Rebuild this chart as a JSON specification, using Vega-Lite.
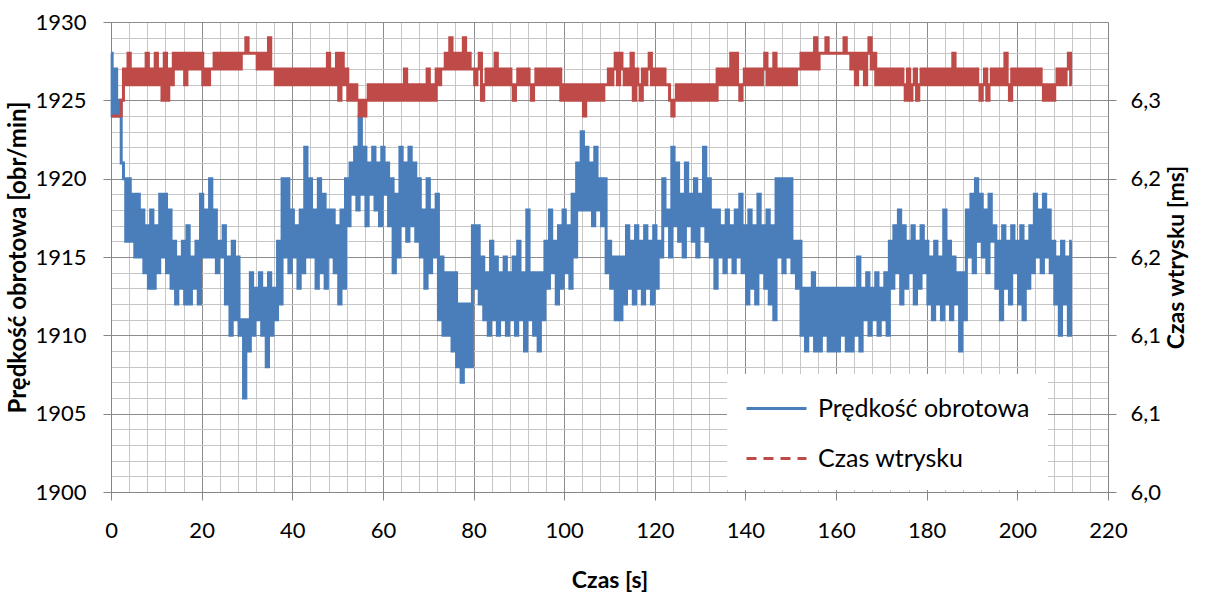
{
  "$schema": "https://vega.github.io/schema/vega-lite/v6.json",
  "width": 997,
  "height": 470,
  "autosize": {"type": "none"},
  "padding": {"left": 111, "top": 22, "right": 114, "bottom": 102},
  "background": "white",
  "config": {
    "view": {"stroke": null},
    "font": "Lato",
    "axis": {
      "labelFont": "Lato",
      "labelFontSize": 22,
      "labelColor": "#000000",
      "titleFont": "Lato",
      "titleFontSize": 23,
      "titleFontWeight": "bold",
      "titleColor": "#000000",
      "domainColor": "#868686",
      "tickColor": "#868686",
      "tickSize": 8
    }
  },
  "datasets": {
    "speed": [
{"t":0,"v":1928},{"t":0.5,"v":1924},{"t":1,"v":1927},{"t":1.5,"v":1924},{"t":2,"v":1925},{"t":2.5,"v":1921},{"t":3,"v":1920},{"t":3.5,"v":1916},{"t":4,"v":1920},{"t":4.5,"v":1916},{"t":5,"v":1919},{"t":5.5,"v":1915},{"t":6,"v":1919},{"t":6.5,"v":1915},{"t":7,"v":1918},{"t":7.5,"v":1914},{"t":8,"v":1917},{"t":8.5,"v":1913},{"t":9,"v":1918},{"t":9.5,"v":1913},{"t":10,"v":1917},{"t":10.5,"v":1914},{"t":11,"v":1919},{"t":11.5,"v":1915},{"t":12,"v":1919},{"t":12.5,"v":1914},{"t":13,"v":1918},{"t":13.5,"v":1913},{"t":14,"v":1916},{"t":14.5,"v":1912},{"t":15,"v":1915},{"t":15.5,"v":1913},{"t":16,"v":1916},{"t":16.5,"v":1912},{"t":17,"v":1917},{"t":17.5,"v":1912},{"t":18,"v":1915},{"t":18.5,"v":1913},{"t":19,"v":1916},{"t":19.5,"v":1912},{"t":20,"v":1919},{"t":20.5,"v":1915},{"t":21,"v":1918},{"t":21.5,"v":1915},{"t":22,"v":1920},{"t":22.5,"v":1915},{"t":23,"v":1918},{"t":23.5,"v":1914},{"t":24,"v":1916},{"t":24.5,"v":1915},{"t":25,"v":1917},{"t":25.5,"v":1912},{"t":26,"v":1915},{"t":26.5,"v":1910},{"t":27,"v":1916},{"t":27.5,"v":1911},{"t":28,"v":1915},{"t":28.5,"v":1910},{"t":29,"v":1911},{"t":29.5,"v":1906},{"t":30,"v":1911},{"t":30.5,"v":1909},{"t":31,"v":1914},{"t":31.5,"v":1910},{"t":32,"v":1913},{"t":32.5,"v":1911},{"t":33,"v":1914},{"t":33.5,"v":1910},{"t":34,"v":1913},{"t":34.5,"v":1908},{"t":35,"v":1914},{"t":35.5,"v":1910},{"t":36,"v":1913},{"t":36.5,"v":1911},{"t":37,"v":1916},{"t":37.5,"v":1912},{"t":38,"v":1920},{"t":38.5,"v":1915},{"t":39,"v":1920},{"t":39.5,"v":1914},{"t":40,"v":1918},{"t":40.5,"v":1915},{"t":41,"v":1917},{"t":41.5,"v":1913},{"t":42,"v":1918},{"t":42.5,"v":1914},{"t":43,"v":1922},{"t":43.5,"v":1915},{"t":44,"v":1920},{"t":44.5,"v":1915},{"t":45,"v":1918},{"t":45.5,"v":1913},{"t":46,"v":1920},{"t":46.5,"v":1914},{"t":47,"v":1919},{"t":47.5,"v":1913},{"t":48,"v":1918},{"t":48.5,"v":1915},{"t":49,"v":1918},{"t":49.5,"v":1914},{"t":50,"v":1917},{"t":50.5,"v":1912},{"t":51,"v":1918},{"t":51.5,"v":1913},{"t":52,"v":1920},{"t":52.5,"v":1917},{"t":53,"v":1921},{"t":53.5,"v":1919},{"t":54,"v":1922},{"t":54.5,"v":1918},{"t":55,"v":1924},{"t":55.5,"v":1919},{"t":56,"v":1922},{"t":56.5,"v":1917},{"t":57,"v":1921},{"t":57.5,"v":1919},{"t":58,"v":1922},{"t":58.5,"v":1918},{"t":59,"v":1921},{"t":59.5,"v":1917},{"t":60,"v":1922},{"t":60.5,"v":1919},{"t":61,"v":1921},{"t":61.5,"v":1917},{"t":62,"v":1920},{"t":62.5,"v":1914},{"t":63,"v":1919},{"t":63.5,"v":1915},{"t":64,"v":1922},{"t":64.5,"v":1917},{"t":65,"v":1921},{"t":65.5,"v":1916},{"t":66,"v":1922},{"t":66.5,"v":1917},{"t":67,"v":1921},{"t":67.5,"v":1916},{"t":68,"v":1920},{"t":68.5,"v":1915},{"t":69,"v":1918},{"t":69.5,"v":1913},{"t":70,"v":1920},{"t":70.5,"v":1914},{"t":71,"v":1918},{"t":71.5,"v":1915},{"t":72,"v":1919},{"t":72.5,"v":1911},{"t":73,"v":1915},{"t":73.5,"v":1910},{"t":74,"v":1914},{"t":74.5,"v":1910},{"t":75,"v":1914},{"t":75.5,"v":1909},{"t":76,"v":1914},{"t":76.5,"v":1908},{"t":77,"v":1912},{"t":77.5,"v":1907},{"t":78,"v":1912},{"t":78.5,"v":1908},{"t":79,"v":1912},{"t":79.5,"v":1908},{"t":80,"v":1917},{"t":80.5,"v":1913},{"t":81,"v":1917},{"t":81.5,"v":1912},{"t":82,"v":1915},{"t":82.5,"v":1911},{"t":83,"v":1914},{"t":83.5,"v":1910},{"t":84,"v":1916},{"t":84.5,"v":1911},{"t":85,"v":1915},{"t":85.5,"v":1910},{"t":86,"v":1914},{"t":86.5,"v":1911},{"t":87,"v":1915},{"t":87.5,"v":1910},{"t":88,"v":1914},{"t":88.5,"v":1911},{"t":89,"v":1915},{"t":89.5,"v":1910},{"t":90,"v":1916},{"t":90.5,"v":1911},{"t":91,"v":1914},{"t":91.5,"v":1909},{"t":92,"v":1918},{"t":92.5,"v":1911},{"t":93,"v":1914},{"t":93.5,"v":1910},{"t":94,"v":1914},{"t":94.5,"v":1909},{"t":95,"v":1914},{"t":95.5,"v":1911},{"t":96,"v":1916},{"t":96.5,"v":1913},{"t":97,"v":1918},{"t":97.5,"v":1914},{"t":98,"v":1916},{"t":98.5,"v":1912},{"t":99,"v":1917},{"t":99.5,"v":1913},{"t":100,"v":1918},{"t":100.5,"v":1914},{"t":101,"v":1917},{"t":101.5,"v":1913},{"t":102,"v":1919},{"t":102.5,"v":1915},{"t":103,"v":1921},{"t":103.5,"v":1918},{"t":104,"v":1923},{"t":104.5,"v":1918},{"t":105,"v":1922},{"t":105.5,"v":1918},{"t":106,"v":1921},{"t":106.5,"v":1917},{"t":107,"v":1922},{"t":107.5,"v":1918},{"t":108,"v":1920},{"t":108.5,"v":1917},{"t":109,"v":1920},{"t":109.5,"v":1914},{"t":110,"v":1916},{"t":110.5,"v":1913},{"t":111,"v":1915},{"t":111.5,"v":1911},{"t":112,"v":1915},{"t":112.5,"v":1911},{"t":113,"v":1915},{"t":113.5,"v":1912},{"t":114,"v":1917},{"t":114.5,"v":1913},{"t":115,"v":1916},{"t":115.5,"v":1912},{"t":116,"v":1917},{"t":116.5,"v":1913},{"t":117,"v":1916},{"t":117.5,"v":1912},{"t":118,"v":1917},{"t":118.5,"v":1913},{"t":119,"v":1916},{"t":119.5,"v":1912},{"t":120,"v":1917},{"t":120.5,"v":1913},{"t":121,"v":1916},{"t":121.5,"v":1915},{"t":122,"v":1920},{"t":122.5,"v":1917},{"t":123,"v":1918},{"t":123.5,"v":1915},{"t":124,"v":1922},{"t":124.5,"v":1917},{"t":125,"v":1921},{"t":125.5,"v":1916},{"t":126,"v":1919},{"t":126.5,"v":1915},{"t":127,"v":1921},{"t":127.5,"v":1917},{"t":128,"v":1919},{"t":128.5,"v":1916},{"t":129,"v":1920},{"t":129.5,"v":1915},{"t":130,"v":1919},{"t":130.5,"v":1917},{"t":131,"v":1922},{"t":131.5,"v":1916},{"t":132,"v":1920},{"t":132.5,"v":1915},{"t":133,"v":1918},{"t":133.5,"v":1913},{"t":134,"v":1918},{"t":134.5,"v":1915},{"t":135,"v":1917},{"t":135.5,"v":1914},{"t":136,"v":1918},{"t":136.5,"v":1915},{"t":137,"v":1917},{"t":137.5,"v":1914},{"t":138,"v":1918},{"t":138.5,"v":1915},{"t":139,"v":1919},{"t":139.5,"v":1914},{"t":140,"v":1917},{"t":140.5,"v":1912},{"t":141,"v":1918},{"t":141.5,"v":1913},{"t":142,"v":1917},{"t":142.5,"v":1912},{"t":143,"v":1919},{"t":143.5,"v":1914},{"t":144,"v":1917},{"t":144.5,"v":1913},{"t":145,"v":1918},{"t":145.5,"v":1912},{"t":146,"v":1917},{"t":146.5,"v":1911},{"t":147,"v":1920},{"t":147.5,"v":1915},{"t":148,"v":1920},{"t":148.5,"v":1914},{"t":149,"v":1920},{"t":149.5,"v":1915},{"t":150,"v":1920},{"t":150.5,"v":1914},{"t":151,"v":1916},{"t":151.5,"v":1913},{"t":152,"v":1916},{"t":152.5,"v":1910},{"t":153,"v":1913},{"t":153.5,"v":1909},{"t":154,"v":1913},{"t":154.5,"v":1910},{"t":155,"v":1914},{"t":155.5,"v":1909},{"t":156,"v":1913},{"t":156.5,"v":1909},{"t":157,"v":1913},{"t":157.5,"v":1910},{"t":158,"v":1913},{"t":158.5,"v":1909},{"t":159,"v":1913},{"t":159.5,"v":1909},{"t":160,"v":1913},{"t":160.5,"v":1909},{"t":161,"v":1913},{"t":161.5,"v":1910},{"t":162,"v":1913},{"t":162.5,"v":1909},{"t":163,"v":1913},{"t":163.5,"v":1909},{"t":164,"v":1913},{"t":164.5,"v":1910},{"t":165,"v":1915},{"t":165.5,"v":1909},{"t":166,"v":1913},{"t":166.5,"v":1911},{"t":167,"v":1914},{"t":167.5,"v":1910},{"t":168,"v":1913},{"t":168.5,"v":1911},{"t":169,"v":1914},{"t":169.5,"v":1910},{"t":170,"v":1913},{"t":170.5,"v":1911},{"t":171,"v":1914},{"t":171.5,"v":1910},{"t":172,"v":1916},{"t":172.5,"v":1913},{"t":173,"v":1917},{"t":173.5,"v":1914},{"t":174,"v":1918},{"t":174.5,"v":1912},{"t":175,"v":1917},{"t":175.5,"v":1913},{"t":176,"v":1916},{"t":176.5,"v":1914},{"t":177,"v":1917},{"t":177.5,"v":1912},{"t":178,"v":1916},{"t":178.5,"v":1913},{"t":179,"v":1917},{"t":179.5,"v":1914},{"t":180,"v":1916},{"t":180.5,"v":1912},{"t":181,"v":1915},{"t":181.5,"v":1911},{"t":182,"v":1916},{"t":182.5,"v":1912},{"t":183,"v":1915},{"t":183.5,"v":1911},{"t":184,"v":1918},{"t":184.5,"v":1912},{"t":185,"v":1916},{"t":185.5,"v":1911},{"t":186,"v":1915},{"t":186.5,"v":1912},{"t":187,"v":1914},{"t":187.5,"v":1909},{"t":188,"v":1914},{"t":188.5,"v":1911},{"t":189,"v":1918},{"t":189.5,"v":1915},{"t":190,"v":1919},{"t":190.5,"v":1914},{"t":191,"v":1920},{"t":191.5,"v":1916},{"t":192,"v":1919},{"t":192.5,"v":1915},{"t":193,"v":1918},{"t":193.5,"v":1914},{"t":194,"v":1919},{"t":194.5,"v":1916},{"t":195,"v":1917},{"t":195.5,"v":1913},{"t":196,"v":1916},{"t":196.5,"v":1911},{"t":197,"v":1917},{"t":197.5,"v":1913},{"t":198,"v":1916},{"t":198.5,"v":1912},{"t":199,"v":1917},{"t":199.5,"v":1914},{"t":200,"v":1916},{"t":200.5,"v":1912},{"t":201,"v":1917},{"t":201.5,"v":1911},{"t":202,"v":1916},{"t":202.5,"v":1913},{"t":203,"v":1917},{"t":203.5,"v":1914},{"t":204,"v":1919},{"t":204.5,"v":1915},{"t":205,"v":1918},{"t":205.5,"v":1914},{"t":206,"v":1919},{"t":206.5,"v":1915},{"t":207,"v":1918},{"t":207.5,"v":1914},{"t":208,"v":1916},{"t":208.5,"v":1912},{"t":209,"v":1915},{"t":209.5,"v":1910},{"t":210,"v":1916},{"t":210.5,"v":1912},{"t":211,"v":1915},{"t":211.5,"v":1910},{"t":212,"v":1916}
    ],
    "inj": [
{"t":0,"v":6.24},{"t":0.5,"v":6.24},{"t":1,"v":6.24},{"t":1.5,"v":6.24},{"t":2,"v":6.24},{"t":2.5,"v":6.25},{"t":3,"v":6.27},{"t":3.5,"v":6.26},{"t":4,"v":6.28},{"t":4.5,"v":6.26},{"t":5,"v":6.27},{"t":5.5,"v":6.26},{"t":6,"v":6.27},{"t":6.5,"v":6.26},{"t":7,"v":6.27},{"t":7.5,"v":6.26},{"t":8,"v":6.28},{"t":8.5,"v":6.26},{"t":9,"v":6.27},{"t":9.5,"v":6.26},{"t":10,"v":6.28},{"t":10.5,"v":6.26},{"t":11,"v":6.27},{"t":11.5,"v":6.25},{"t":12,"v":6.28},{"t":12.5,"v":6.25},{"t":13,"v":6.27},{"t":13.5,"v":6.26},{"t":14,"v":6.28},{"t":14.5,"v":6.27},{"t":15,"v":6.28},{"t":15.5,"v":6.27},{"t":16,"v":6.28},{"t":16.5,"v":6.26},{"t":17,"v":6.28},{"t":17.5,"v":6.27},{"t":18,"v":6.28},{"t":18.5,"v":6.27},{"t":19,"v":6.28},{"t":19.5,"v":6.27},{"t":20,"v":6.28},{"t":20.5,"v":6.26},{"t":21,"v":6.27},{"t":21.5,"v":6.26},{"t":22,"v":6.27},{"t":22.5,"v":6.27},{"t":23,"v":6.28},{"t":23.5,"v":6.27},{"t":24,"v":6.28},{"t":24.5,"v":6.27},{"t":25,"v":6.28},{"t":25.5,"v":6.27},{"t":26,"v":6.28},{"t":26.5,"v":6.27},{"t":27,"v":6.28},{"t":27.5,"v":6.27},{"t":28,"v":6.28},{"t":28.5,"v":6.27},{"t":29,"v":6.28},{"t":29.5,"v":6.28},{"t":30,"v":6.29},{"t":30.5,"v":6.28},{"t":31,"v":6.28},{"t":31.5,"v":6.28},{"t":32,"v":6.28},{"t":32.5,"v":6.27},{"t":33,"v":6.28},{"t":33.5,"v":6.27},{"t":34,"v":6.28},{"t":34.5,"v":6.27},{"t":35,"v":6.29},{"t":35.5,"v":6.27},{"t":36,"v":6.27},{"t":36.5,"v":6.26},{"t":37,"v":6.27},{"t":37.5,"v":6.26},{"t":38,"v":6.27},{"t":38.5,"v":6.26},{"t":39,"v":6.27},{"t":39.5,"v":6.26},{"t":40,"v":6.27},{"t":40.5,"v":6.26},{"t":41,"v":6.27},{"t":41.5,"v":6.26},{"t":42,"v":6.27},{"t":42.5,"v":6.26},{"t":43,"v":6.27},{"t":43.5,"v":6.26},{"t":44,"v":6.27},{"t":44.5,"v":6.26},{"t":45,"v":6.27},{"t":45.5,"v":6.26},{"t":46,"v":6.27},{"t":46.5,"v":6.26},{"t":47,"v":6.27},{"t":47.5,"v":6.26},{"t":48,"v":6.28},{"t":48.5,"v":6.26},{"t":49,"v":6.27},{"t":49.5,"v":6.26},{"t":50,"v":6.28},{"t":50.5,"v":6.25},{"t":51,"v":6.28},{"t":51.5,"v":6.26},{"t":52,"v":6.27},{"t":52.5,"v":6.25},{"t":53,"v":6.26},{"t":53.5,"v":6.25},{"t":54,"v":6.26},{"t":54.5,"v":6.25},{"t":55,"v":6.24},{"t":55.5,"v":6.25},{"t":56,"v":6.24},{"t":56.5,"v":6.25},{"t":57,"v":6.26},{"t":57.5,"v":6.25},{"t":58,"v":6.26},{"t":58.5,"v":6.25},{"t":59,"v":6.26},{"t":59.5,"v":6.25},{"t":60,"v":6.26},{"t":60.5,"v":6.25},{"t":61,"v":6.26},{"t":61.5,"v":6.25},{"t":62,"v":6.26},{"t":62.5,"v":6.25},{"t":63,"v":6.26},{"t":63.5,"v":6.25},{"t":64,"v":6.26},{"t":64.5,"v":6.25},{"t":65,"v":6.27},{"t":65.5,"v":6.25},{"t":66,"v":6.26},{"t":66.5,"v":6.25},{"t":67,"v":6.26},{"t":67.5,"v":6.25},{"t":68,"v":6.26},{"t":68.5,"v":6.25},{"t":69,"v":6.26},{"t":69.5,"v":6.25},{"t":70,"v":6.27},{"t":70.5,"v":6.25},{"t":71,"v":6.26},{"t":71.5,"v":6.25},{"t":72,"v":6.27},{"t":72.5,"v":6.26},{"t":73,"v":6.27},{"t":73.5,"v":6.27},{"t":74,"v":6.28},{"t":74.5,"v":6.27},{"t":75,"v":6.29},{"t":75.5,"v":6.27},{"t":76,"v":6.28},{"t":76.5,"v":6.27},{"t":77,"v":6.28},{"t":77.5,"v":6.27},{"t":78,"v":6.29},{"t":78.5,"v":6.27},{"t":79,"v":6.28},{"t":79.5,"v":6.27},{"t":80,"v":6.27},{"t":80.5,"v":6.26},{"t":81,"v":6.27},{"t":81.5,"v":6.28},{"t":82,"v":6.25},{"t":82.5,"v":6.26},{"t":83,"v":6.27},{"t":83.5,"v":6.26},{"t":84,"v":6.27},{"t":84.5,"v":6.26},{"t":85,"v":6.28},{"t":85.5,"v":6.26},{"t":86,"v":6.27},{"t":86.5,"v":6.26},{"t":87,"v":6.27},{"t":87.5,"v":6.26},{"t":88,"v":6.27},{"t":88.5,"v":6.26},{"t":89,"v":6.25},{"t":89.5,"v":6.26},{"t":90,"v":6.27},{"t":90.5,"v":6.26},{"t":91,"v":6.27},{"t":91.5,"v":6.26},{"t":92,"v":6.27},{"t":92.5,"v":6.26},{"t":93,"v":6.25},{"t":93.5,"v":6.26},{"t":94,"v":6.27},{"t":94.5,"v":6.26},{"t":95,"v":6.27},{"t":95.5,"v":6.26},{"t":96,"v":6.27},{"t":96.5,"v":6.26},{"t":97,"v":6.27},{"t":97.5,"v":6.26},{"t":98,"v":6.27},{"t":98.5,"v":6.26},{"t":99,"v":6.27},{"t":99.5,"v":6.25},{"t":100,"v":6.26},{"t":100.5,"v":6.25},{"t":101,"v":6.26},{"t":101.5,"v":6.25},{"t":102,"v":6.26},{"t":102.5,"v":6.25},{"t":103,"v":6.26},{"t":103.5,"v":6.25},{"t":104,"v":6.26},{"t":104.5,"v":6.24},{"t":105,"v":6.26},{"t":105.5,"v":6.25},{"t":106,"v":6.26},{"t":106.5,"v":6.25},{"t":107,"v":6.26},{"t":107.5,"v":6.25},{"t":108,"v":6.26},{"t":108.5,"v":6.25},{"t":109,"v":6.26},{"t":109.5,"v":6.26},{"t":110,"v":6.27},{"t":110.5,"v":6.26},{"t":111,"v":6.27},{"t":111.5,"v":6.28},{"t":112,"v":6.26},{"t":112.5,"v":6.28},{"t":113,"v":6.27},{"t":113.5,"v":6.26},{"t":114,"v":6.27},{"t":114.5,"v":6.26},{"t":115,"v":6.28},{"t":115.5,"v":6.25},{"t":116,"v":6.27},{"t":116.5,"v":6.26},{"t":117,"v":6.25},{"t":117.5,"v":6.27},{"t":118,"v":6.26},{"t":118.5,"v":6.27},{"t":119,"v":6.28},{"t":119.5,"v":6.26},{"t":120,"v":6.27},{"t":120.5,"v":6.26},{"t":121,"v":6.27},{"t":121.5,"v":6.26},{"t":122,"v":6.27},{"t":122.5,"v":6.26},{"t":123,"v":6.26},{"t":123.5,"v":6.25},{"t":124,"v":6.24},{"t":124.5,"v":6.25},{"t":125,"v":6.26},{"t":125.5,"v":6.25},{"t":126,"v":6.26},{"t":126.5,"v":6.25},{"t":127,"v":6.26},{"t":127.5,"v":6.25},{"t":128,"v":6.26},{"t":128.5,"v":6.25},{"t":129,"v":6.26},{"t":129.5,"v":6.25},{"t":130,"v":6.26},{"t":130.5,"v":6.25},{"t":131,"v":6.26},{"t":131.5,"v":6.25},{"t":132,"v":6.26},{"t":132.5,"v":6.25},{"t":133,"v":6.26},{"t":133.5,"v":6.25},{"t":134,"v":6.27},{"t":134.5,"v":6.26},{"t":135,"v":6.27},{"t":135.5,"v":6.26},{"t":136,"v":6.27},{"t":136.5,"v":6.26},{"t":137,"v":6.28},{"t":137.5,"v":6.26},{"t":138,"v":6.28},{"t":138.5,"v":6.26},{"t":139,"v":6.25},{"t":139.5,"v":6.26},{"t":140,"v":6.27},{"t":140.5,"v":6.26},{"t":141,"v":6.27},{"t":141.5,"v":6.26},{"t":142,"v":6.27},{"t":142.5,"v":6.26},{"t":143,"v":6.27},{"t":143.5,"v":6.26},{"t":144,"v":6.27},{"t":144.5,"v":6.28},{"t":145,"v":6.26},{"t":145.5,"v":6.27},{"t":146,"v":6.26},{"t":146.5,"v":6.28},{"t":147,"v":6.26},{"t":147.5,"v":6.27},{"t":148,"v":6.26},{"t":148.5,"v":6.27},{"t":149,"v":6.26},{"t":149.5,"v":6.27},{"t":150,"v":6.26},{"t":150.5,"v":6.27},{"t":151,"v":6.26},{"t":151.5,"v":6.27},{"t":152,"v":6.27},{"t":152.5,"v":6.28},{"t":153,"v":6.27},{"t":153.5,"v":6.28},{"t":154,"v":6.27},{"t":154.5,"v":6.28},{"t":155,"v":6.27},{"t":155.5,"v":6.29},{"t":156,"v":6.27},{"t":156.5,"v":6.28},{"t":157,"v":6.28},{"t":157.5,"v":6.28},{"t":158,"v":6.29},{"t":158.5,"v":6.28},{"t":159,"v":6.28},{"t":159.5,"v":6.28},{"t":160,"v":6.28},{"t":160.5,"v":6.28},{"t":161,"v":6.28},{"t":161.5,"v":6.28},{"t":162,"v":6.29},{"t":162.5,"v":6.28},{"t":163,"v":6.28},{"t":163.5,"v":6.27},{"t":164,"v":6.28},{"t":164.5,"v":6.26},{"t":165,"v":6.28},{"t":165.5,"v":6.27},{"t":166,"v":6.28},{"t":166.5,"v":6.26},{"t":167,"v":6.28},{"t":167.5,"v":6.29},{"t":168,"v":6.27},{"t":168.5,"v":6.28},{"t":169,"v":6.26},{"t":169.5,"v":6.27},{"t":170,"v":6.26},{"t":170.5,"v":6.27},{"t":171,"v":6.26},{"t":171.5,"v":6.27},{"t":172,"v":6.26},{"t":172.5,"v":6.27},{"t":173,"v":6.26},{"t":173.5,"v":6.27},{"t":174,"v":6.26},{"t":174.5,"v":6.27},{"t":175,"v":6.26},{"t":175.5,"v":6.25},{"t":176,"v":6.27},{"t":176.5,"v":6.25},{"t":177,"v":6.26},{"t":177.5,"v":6.27},{"t":178,"v":6.25},{"t":178.5,"v":6.26},{"t":179,"v":6.27},{"t":179.5,"v":6.26},{"t":180,"v":6.27},{"t":180.5,"v":6.26},{"t":181,"v":6.27},{"t":181.5,"v":6.26},{"t":182,"v":6.27},{"t":182.5,"v":6.26},{"t":183,"v":6.27},{"t":183.5,"v":6.26},{"t":184,"v":6.27},{"t":184.5,"v":6.26},{"t":185,"v":6.27},{"t":185.5,"v":6.26},{"t":186,"v":6.28},{"t":186.5,"v":6.26},{"t":187,"v":6.27},{"t":187.5,"v":6.26},{"t":188,"v":6.27},{"t":188.5,"v":6.26},{"t":189,"v":6.27},{"t":189.5,"v":6.26},{"t":190,"v":6.27},{"t":190.5,"v":6.26},{"t":191,"v":6.27},{"t":191.5,"v":6.26},{"t":192,"v":6.25},{"t":192.5,"v":6.26},{"t":193,"v":6.27},{"t":193.5,"v":6.25},{"t":194,"v":6.26},{"t":194.5,"v":6.27},{"t":195,"v":6.26},{"t":195.5,"v":6.27},{"t":196,"v":6.26},{"t":196.5,"v":6.27},{"t":197,"v":6.26},{"t":197.5,"v":6.28},{"t":198,"v":6.26},{"t":198.5,"v":6.25},{"t":199,"v":6.27},{"t":199.5,"v":6.26},{"t":200,"v":6.27},{"t":200.5,"v":6.26},{"t":201,"v":6.27},{"t":201.5,"v":6.26},{"t":202,"v":6.27},{"t":202.5,"v":6.26},{"t":203,"v":6.27},{"t":203.5,"v":6.26},{"t":204,"v":6.27},{"t":204.5,"v":6.26},{"t":205,"v":6.27},{"t":205.5,"v":6.26},{"t":206,"v":6.25},{"t":206.5,"v":6.26},{"t":207,"v":6.25},{"t":207.5,"v":6.26},{"t":208,"v":6.25},{"t":208.5,"v":6.26},{"t":209,"v":6.27},{"t":209.5,"v":6.26},{"t":210,"v":6.27},{"t":210.5,"v":6.26},{"t":211,"v":6.27},{"t":211.5,"v":6.28},{"t":212,"v":6.26}
    ]
  },
  "layer": [
    {
      "data": {"name": "speed"},
      "mark": {"type": "line", "strokeOpacity": 0},
      "encoding": {
        "x": {"field": "t", "type": "quantitative", "scale": {"domain": [0, 220], "nice": false},
          "axis": {"orient": "bottom", "values": [0,4,8,12,16,20,24,28,32,36,40,44,48,52,56,60,64,68,72,76,80,84,88,92,96,100,104,108,112,116,120,124,128,132,136,140,144,148,152,156,160,164,168,172,176,180,184,188,192,196,200,204,208,212,216,220],
            "grid": true, "gridColor": "#c6c6c6", "gridWidth": 1, "labels": false, "ticks": false, "domain": false, "title": null}},
        "y": {"field": "v", "type": "quantitative", "scale": {"domain": [1900, 1930], "nice": false, "zero": false},
          "axis": {"orient": "left", "values": [1900,1901,1902,1903,1904,1905,1906,1907,1908,1909,1910,1911,1912,1913,1914,1915,1916,1917,1918,1919,1920,1921,1922,1923,1924,1925,1926,1927,1928,1929,1930],
            "grid": true, "gridColor": "#c6c6c6", "gridWidth": 1, "labels": false, "ticks": false, "domain": false, "title": null}}
      }
    },
    {
      "data": {"name": "speed"},
      "mark": {"type": "line", "strokeWidth": 3, "interpolate": "step"},
      "encoding": {
        "x": {"field": "t", "type": "quantitative", "scale": {"domain": [0, 220], "nice": false},
          "axis": {"orient": "bottom", "values": [0,20,40,60,80,100,120,140,160,180,200,220], "grid": true, "gridColor": "#8c8c8c", "gridWidth": 1,
            "labelPadding": 20, "title": "Czas [s]", "titlePadding": 28, "labelFlush": false}},
        "y": {"field": "v", "type": "quantitative", "scale": {"domain": [1900, 1930], "nice": false, "zero": false},
          "axis": {"orient": "left", "values": [1900,1905,1910,1915,1920,1925,1930], "grid": true, "gridColor": "#8c8c8c", "gridWidth": 1,
            "labelPadding": 17, "title": "Prędkość obrotowa [obr/min]", "titleFontSize": 24, "titlePadding": 4, "format": "d"}},
        "color": {"datum": "Prędkość obrotowa", "type": "nominal",
          "scale": {"domain": ["Prędkość obrotowa", "Czas wtrysku"], "range": ["#4a7ebb", "#be4b48"]},
          "legend": {"orient": "none", "legendX": 616, "legendY": 352, "title": null,
            "symbolType": "M-1,0H3", "symbolSize": 900, "symbolStrokeWidth": 3, "symbolFillColor": "transparent",
            "labelFont": "Lato", "labelFontSize": 25, "labelColor": "#000000", "labelOffset": 40, "labelLimit": 400,
            "fillColor": "white", "padding": 18, "rowPadding": 20,
            "encode": {"symbols": {"update": {"strokeDash": {"signal": "datum.label === 'Czas wtrysku' ? [10, 7] : []"}}}}}}
      }
    },
    {
      "data": {"name": "inj"},
      "mark": {"type": "line", "strokeWidth": 3, "interpolate": "step"},
      "encoding": {
        "x": {"field": "t", "type": "quantitative", "scale": {"domain": [0, 220], "nice": false}, "axis": null},
        "y": {"field": "v", "type": "quantitative", "scale": {"domain": [6.0, 6.3], "nice": false, "zero": false},
          "axis": {"orient": "right", "values": [6.0, 6.05, 6.1, 6.15, 6.2, 6.25], "grid": false,
            "labelExpr": "datum.value < 6.025 ? '6,0' : datum.value < 6.125 ? '6,1' : datum.value < 6.225 ? '6,2' : '6,3'",
            "labelPadding": 14, "title": "Czas wtrysku [ms]", "titleAngle": 270, "titlePadding": 28}},
        "color": {"datum": "Czas wtrysku", "type": "nominal"}
      }
    }
  ],
  "resolve": {"scale": {"y": "independent"}, "axis": {"x": "independent", "y": "independent"}}
}
